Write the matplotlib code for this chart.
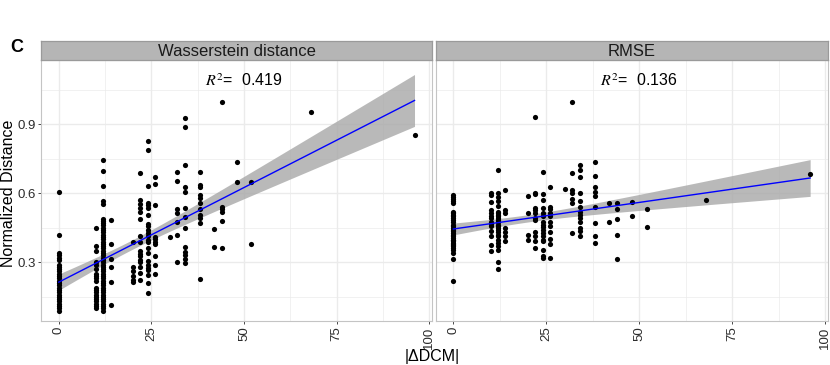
import numpy as np
import matplotlib
matplotlib.use("Agg")
import matplotlib.pyplot as plt

plt.rcParams['font.family'] = ['Liberation Sans', 'DejaVu Sans']

# ---------------- data ----------------
panel_titles = ["Wasserstein distance", "RMSE"]
r2_labels = ["0.419", "0.136"]
x_ticks = [0, 25, 50, 75, 100]
y_ticks = [0.3, 0.6, 0.9]

# Wasserstein distance: normalized distances at each |dDCM| value
wd_x0 = [0.607, 0.42, 0.34, 0.33, 0.32, 0.31, 0.29, 0.28, 0.27, 0.26, 0.25, 0.24, 0.23,
         0.22, 0.21, 0.20, 0.19, 0.18, 0.17, 0.16, 0.15, 0.14, 0.13, 0.12, 0.11, 0.10, 0.09]
wd_x10 = [0.448, 0.371, 0.35, 0.303, 0.29, 0.27, 0.25, 0.24, 0.23, 0.22, 0.19, 0.18,
          0.17, 0.16, 0.15, 0.14, 0.13, 0.12, 0.11, 0.10]
wd_x12 = [0.744, 0.696, 0.632, 0.564, 0.555, 0.49, 0.48, 0.47, 0.46, 0.45, 0.44, 0.43,
          0.42, 0.41, 0.40, 0.39, 0.38, 0.37, 0.36, 0.35, 0.34, 0.33, 0.32, 0.31, 0.30,
          0.29, 0.28, 0.27, 0.26, 0.25, 0.24, 0.23, 0.22, 0.21, 0.20, 0.19, 0.18, 0.17,
          0.16, 0.15, 0.14, 0.13, 0.12, 0.11, 0.10, 0.09]
wd_x14 = [0.484, 0.38, 0.313, 0.281, 0.216, 0.114]
wd_x20 = [0.39, 0.281, 0.26, 0.24, 0.225, 0.215]
wd_x22 = [0.686, 0.571, 0.553, 0.536, 0.518, 0.487, 0.413, 0.39, 0.35, 0.336, 0.326,
          0.31, 0.30, 0.28, 0.252, 0.224]
wd_x24 = [0.827, 0.789, 0.63, 0.559, 0.549, 0.535, 0.506, 0.466, 0.456, 0.441, 0.427,
          0.412, 0.398, 0.386, 0.362, 0.34, 0.304, 0.29, 0.275, 0.267, 0.245, 0.21, 0.166]
wd_x26 = [0.67, 0.641, 0.549, 0.411, 0.40, 0.39, 0.381, 0.326, 0.289, 0.25]
wd_x30 = [0.411]
wd_x32 = [0.69, 0.655, 0.532, 0.513, 0.477, 0.419, 0.30]
wd_x34 = [0.928, 0.888, 0.723, 0.629, 0.604, 0.535, 0.496, 0.448, 0.368, 0.346, 0.332,
          0.313, 0.299]
wd_x38 = [0.694, 0.636, 0.626, 0.593, 0.578, 0.559, 0.53, 0.506, 0.491, 0.472, 0.226]
wd_x42 = [0.445, 0.368]
wd_x44 = [0.996, 0.542, 0.53, 0.52, 0.481, 0.364]
wd_x48 = [0.735, 0.648]
wd_x52 = [0.647, 0.38]
wd_x68 = [0.952]
wd_x96 = [0.854]

# RMSE: normalized distances at each |dDCM| value
rm_x0 = [0.592, 0.585, 0.574, 0.564, 0.556, 0.52, 0.513, 0.506, 0.499, 0.492, 0.484,
         0.473, 0.463, 0.456, 0.448, 0.441, 0.434, 0.427, 0.42, 0.412, 0.405, 0.398,
         0.395, 0.391, 0.385, 0.38, 0.375, 0.369, 0.362, 0.352, 0.34, 0.314, 0.218]
rm_x10 = [0.602, 0.592, 0.561, 0.525, 0.513, 0.503, 0.492, 0.477, 0.467, 0.458, 0.434,
          0.412, 0.376, 0.348]
rm_x12 = [0.70, 0.60, 0.582, 0.564, 0.545, 0.52, 0.513, 0.506, 0.499, 0.492, 0.484,
          0.473, 0.463, 0.456, 0.448, 0.441, 0.43, 0.42, 0.412, 0.398, 0.384, 0.369,
          0.355, 0.30, 0.271]
rm_x14 = [0.614, 0.525, 0.516, 0.448, 0.43, 0.412, 0.394]
rm_x20 = [0.589, 0.516, 0.417, 0.398]
rm_x22 = [0.931, 0.602, 0.595, 0.535, 0.525, 0.516, 0.492, 0.484, 0.43, 0.412, 0.391, 0.362]
rm_x24 = [0.693, 0.595, 0.571, 0.535, 0.513, 0.499, 0.477, 0.463, 0.453, 0.441, 0.427,
          0.412, 0.398, 0.391, 0.352, 0.326, 0.319]
rm_x26 = [0.625, 0.542, 0.53, 0.516, 0.502, 0.477, 0.458, 0.43, 0.401, 0.381, 0.319]
rm_x30 = [0.618]
rm_x32 = [0.996, 0.689, 0.614, 0.60, 0.574, 0.556, 0.427]
rm_x34 = [0.722, 0.70, 0.672, 0.60, 0.564, 0.542, 0.52, 0.506, 0.492, 0.477, 0.448,
          0.434, 0.412]
rm_x38 = [0.736, 0.674, 0.628, 0.607, 0.588, 0.542, 0.47, 0.415, 0.384]
rm_x42 = [0.556, 0.473]
rm_x44 = [0.556, 0.53, 0.489, 0.417, 0.316]
rm_x48 = [0.561, 0.502]
rm_x52 = [0.533, 0.454]
rm_x68 = [0.571]
rm_x96 = [0.683]

dcm_levels = [0, 10, 12, 14, 20, 22, 24, 26, 30, 32, 34, 38, 42, 44, 48, 52, 68, 96]
wd_cols = [wd_x0, wd_x10, wd_x12, wd_x14, wd_x20, wd_x22, wd_x24, wd_x26, wd_x30, wd_x32,
           wd_x34, wd_x38, wd_x42, wd_x44, wd_x48, wd_x52, wd_x68, wd_x96]
rm_cols = [rm_x0, rm_x10, rm_x12, rm_x14, rm_x20, rm_x22, rm_x24, rm_x26, rm_x30, rm_x32,
           rm_x34, rm_x38, rm_x42, rm_x44, rm_x48, rm_x52, rm_x68, rm_x96]


def flatten(cols):
    xs, ys = [], []
    for lvl, vals in zip(dcm_levels, cols):
        xs += [lvl] * len(vals)
        ys += list(vals)
    return np.array(xs, float), np.array(ys, float)


# ---------------- figure ----------------
W, H = 830, 365
fig = plt.figure(figsize=(W / 100, H / 100), dpi=100)


def fx(px):
    return px / W


def fy(py):
    return 1 - py / H


panel_top, panel_bot = 60.3, 321.0
strip_top = 41.0
panels_x = [(41.0, 432.3), (435.5, 828.0)]

xlim = (-4.8, 100.8)
ylim = (0.045, 1.177)
grid_c = '#EBEBEB'
border_c = '#C4C4C4'
tick_c = '#2B2B2B'

for i, (cols, title, r2) in enumerate(zip([wd_cols, rm_cols], panel_titles, r2_labels)):
    x0, x1 = panels_x[i]
    ax = fig.add_axes([fx(x0), fy(panel_bot), fx(x1 - x0), (panel_bot - panel_top) / H])
    ax.set_xlim(*xlim)
    ax.set_ylim(*ylim)
    ax.set_facecolor('white')
    # grid
    for gx in [12.5, 37.5, 62.5, 87.5]:
        ax.axvline(gx, color=grid_c, lw=0.5, zorder=0)
    for gx in x_ticks:
        ax.axvline(gx, color=grid_c, lw=1.0, zorder=0)
    for gy in [0.15, 0.45, 0.75, 1.05]:
        ax.axhline(gy, color=grid_c, lw=0.5, zorder=0)
    for gy in y_ticks:
        ax.axhline(gy, color=grid_c, lw=1.0, zorder=0)

    xs, ys = flatten(cols)
    n = len(xs)
    b, a = np.polyfit(xs, ys, 1)
    xm = xs.mean()
    resid = ys - (a + b * xs)
    s = np.sqrt((resid ** 2).sum() / (n - 2))
    sxx = ((xs - xm) ** 2).sum()
    xg = np.linspace(xs.min(), xs.max(), 80)
    yg = a + b * xg
    se = s * np.sqrt(1.0 / n + (xg - xm) ** 2 / sxx)
    tq = 1.97
    ax.fill_between(xg, yg - tq * se, yg + tq * se, color='#A8A8A8', alpha=0.8,
                    lw=0, zorder=1)
    ax.scatter(xs, ys, s=14, color='black', lw=0, zorder=2)
    ax.plot(xg, yg, color='#0000FF', lw=1.0, zorder=3)

    ax.text(50, 1.09, r'$R^2$=  ' + r2, ha='center', va='center', fontsize=11.5,
            math_fontfamily='stix', color='black')

    ax.set_xticks(x_ticks)
    ax.set_xticklabels([str(t) for t in x_ticks], rotation=90, fontsize=9.5,
                       color=tick_c, va='top', ha='center')
    ax.tick_params(axis='x', length=2.5, width=0.6, color=tick_c, pad=1.5)
    if i == 0:
        ax.set_yticks(y_ticks)
        ax.set_yticklabels([f"{t:.1f}" for t in y_ticks], fontsize=9.5, color=tick_c)
        ax.tick_params(axis='y', length=2.5, width=0.6, color=tick_c, pad=1.5)
    else:
        ax.set_yticks([])
    for sp in ax.spines.values():
        sp.set_color(border_c)
        sp.set_linewidth(0.8)

    # facet strip
    sax = fig.add_axes([fx(x0), fy(panel_top), fx(x1 - x0), (panel_top - strip_top) / H])
    sax.set_xticks([])
    sax.set_yticks([])
    sax.set_facecolor('#B5B5B5')
    for sp in sax.spines.values():
        sp.set_color('#9A9A9A')
        sp.set_linewidth(0.9)
    sax.text(0.5, 0.45, title, ha='center', va='center', fontsize=12,
             transform=sax.transAxes, color='#1A1A1A')

fig.text(fx(432), fy(357), '|ΔDCM|', ha='center', va='center', fontsize=11.5)
fig.text(fx(9), fy(193), 'Normalized Distance', ha='center', va='center',
         rotation=90, fontsize=11.5)
fig.text(fx(10), fy(48), 'C', ha='left', va='center', fontsize=13, fontweight='bold')

fig.savefig('out.png', dpi=100)
